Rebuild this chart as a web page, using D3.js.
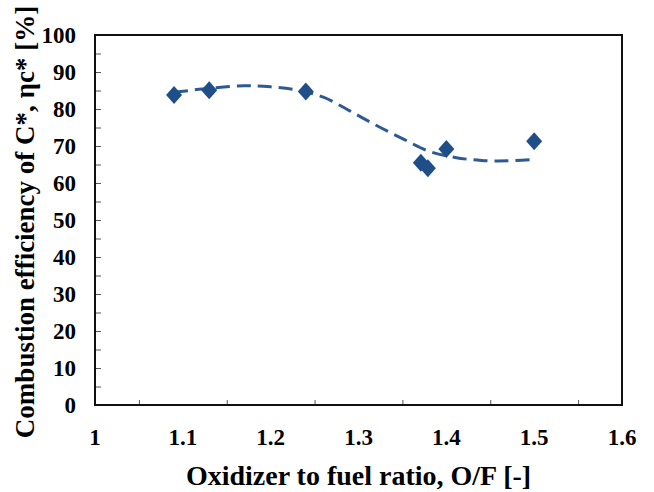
<!DOCTYPE html>
<html>
<head>
<meta charset="utf-8">
<script src="https://cdn.jsdelivr.net/npm/d3@7"></script>
<style>
  body { margin: 0; background: #fff; }
  svg { display: block; }
</style>
</head>
<body>
<div id="chart"></div>
<script>
// Measured points: O/F ratio vs combustion efficiency
var ofRatio = [1.09, 1.13, 1.24, 1.371, 1.379, 1.40, 1.50];
var efficiency = [83.8, 85.1, 84.7, 65.5, 64.0, 69.2, 71.3];

// Dashed trend curve
var trendX = [1.09, 1.13, 1.17, 1.20, 1.23, 1.26, 1.29, 1.32, 1.35, 1.38, 1.41, 1.44, 1.47, 1.50];
var trendY = [84.5, 85.6, 86.3, 86.0, 85.1, 83.2, 79.5, 75.6, 72.0, 68.6, 66.9, 66.1, 66.0, 66.4];

var xTicks = [1, 1.1, 1.2, 1.3, 1.4, 1.5, 1.6];
var yTicks = [0, 10, 20, 30, 40, 50, 60, 70, 80, 90, 100];

var xLabel = "Oxidizer to fuel ratio, O/F [-]";
var yLabel = "Combustion efficiency of C*, ηc* [%]";

var width = 654;
var height = 492;
var margin = {left: 95, top: 35, right: 32, bottom: 87};
var markColor = "#1f4e89";
var lineColor = "#2d5a94";
var font = "'Liberation Serif', 'Times New Roman', serif";

var svg = d3.select("#chart")
            .append("svg")
            .attr("width", width)
            .attr("height", height);

var xScale = d3.scaleLinear()
               .domain([1, 1.6])
               .range([margin.left, width - margin.right]);

var yScale = d3.scaleLinear()
               .domain([0, 100])
               .range([height - margin.bottom, margin.top]);

// minor ticks every half step, pointing inside
var xAxis = d3.axisBottom(xScale)
              .tickValues(d3.range(1.05, 1.6, 0.1))
              .tickSize(-5)
              .tickFormat("");
var yAxis = d3.axisLeft(yScale)
              .tickValues(d3.range(5, 100, 5))
              .tickSize(-6)
              .tickFormat("");

svg.append("g")
   .attr("transform", "translate(0," + (height - margin.bottom) + ")")
   .call(xAxis)
   .call(g => g.select(".domain").remove())
   .selectAll("line").attr("stroke", "#555");

svg.append("g")
   .attr("transform", "translate(" + margin.left + ",0)")
   .call(yAxis)
   .call(g => g.select(".domain").remove())
   .selectAll("line").attr("stroke", "#555");

// frame around plot area
svg.append("rect")
   .attr("x", xScale(1))
   .attr("y", yScale(100))
   .attr("width", xScale(1.6) - xScale(1))
   .attr("height", yScale(0) - yScale(100))
   .attr("fill", "none")
   .attr("stroke", "#111")
   .attr("stroke-width", 2);

// tick labels
svg.selectAll(".xtick").data(xTicks).enter()
   .append("text")
   .attr("x", d => xScale(d))
   .attr("y", height - margin.bottom + 40)
   .attr("text-anchor", "middle")
   .attr("font-family", font)
   .attr("font-weight", "bold")
   .attr("font-size", 23)
   .text(d => d);

svg.selectAll(".ytick").data(yTicks).enter()
   .append("text")
   .attr("x", margin.left - 19)
   .attr("y", d => yScale(d) + 8)
   .attr("text-anchor", "end")
   .attr("font-family", font)
   .attr("font-weight", "bold")
   .attr("font-size", 23)
   .text(d => d);

// trend line
svg.append("path")
   .datum(trendX.map((d, i) => [d, trendY[i]]))
   .attr("d", d3.line()
                .x(d => xScale(d[0]))
                .y(d => yScale(d[1]))
                .curve(d3.curveCatmullRom))
   .attr("fill", "none")
   .attr("stroke", lineColor)
   .attr("stroke-width", 3)
   .style("stroke-dasharray", "14, 7");

// diamonds
svg.selectAll(".pt").data(ofRatio).enter()
   .append("path")
   .attr("d", "M0,-9 L8,0 L0,9 L-8,0 Z")
   .attr("transform", (d, i) => "translate(" + xScale(d) + "," + yScale(efficiency[i]) + ")")
   .attr("fill", markColor);

// axis labels
svg.append("text")
   .attr("x", (xScale(1) + xScale(1.6)) / 2)
   .attr("y", 485)
   .attr("text-anchor", "middle")
   .attr("font-family", font)
   .attr("font-weight", "bold")
   .attr("font-size", 28)
   .text(xLabel);

svg.append("text")
   .attr("transform", "translate(34,222) rotate(-90)")
   .attr("text-anchor", "middle")
   .attr("font-family", font)
   .attr("font-weight", "bold")
   .attr("font-size", 27)
   .text(yLabel);
</script>
</body>
</html>
